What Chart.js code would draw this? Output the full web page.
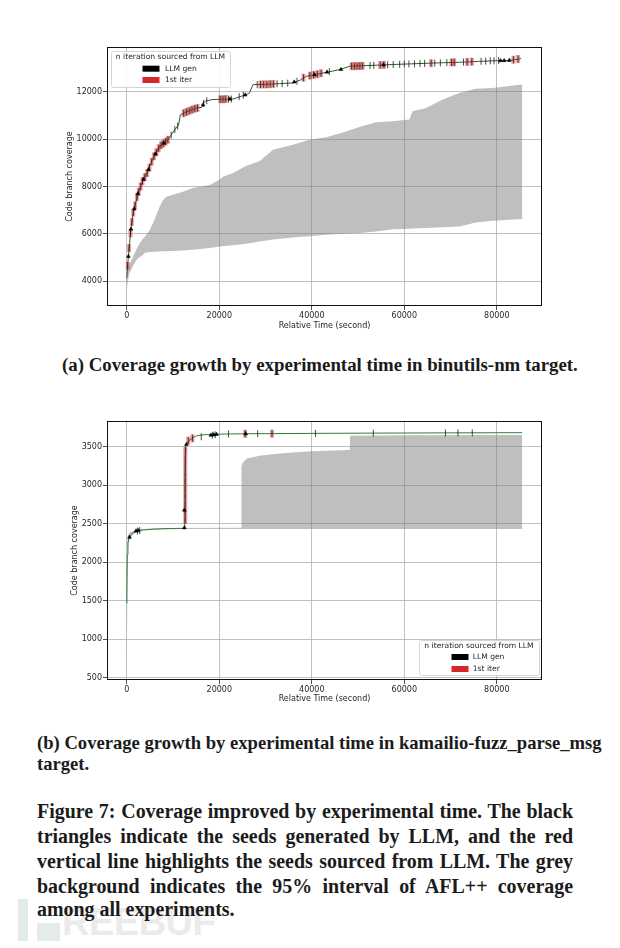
<!DOCTYPE html>
<html><head><meta charset="utf-8">
<script src="https://cdn.jsdelivr.net/npm/chart.js@4.4.1/dist/chart.umd.min.js"></script>
<style>
html,body{margin:0;padding:0;background:#fff;}
body{width:620px;height:948px;position:relative;overflow:hidden;}
canvas{position:absolute;left:0;}
.cap{position:absolute;font-family:"Liberation Serif","DejaVu Serif",serif;font-weight:bold;color:#1b1b1b;white-space:nowrap;line-height:24px;height:24px;z-index:2;}
.just{text-align:justify;text-align-last:justify;}
.wm{position:absolute;z-index:1;}
.wmtext{position:absolute;left:62px;top:901px;font-family:"Liberation Sans",Arial,sans-serif;font-weight:bold;font-size:38px;color:#ebebeb;letter-spacing:-0.5px;z-index:1;}
</style></head>
<body>
<canvas id="c1" width="620" height="340" style="top:0px"></canvas>
<canvas id="c2" width="620" height="330" style="top:380px"></canvas>

<div class="wm" style="left:18px;top:899px;width:10px;height:42px;background:#e1ebe7"></div>
<div class="wm" style="left:37px;top:923px;width:23px;height:18px;background:#e4ece9"></div>
<div class="wmtext">REEBUF</div>

<div class="cap" id="capA" style="left:62px;top:353px">(a) Coverage growth by experimental time in binutils-nm target.</div>
<div class="cap" id="capB1" style="left:37px;top:731px">(b) Coverage growth by experimental time in kamailio-fuzz_parse_msg</div>
<div class="cap" id="capB2" style="left:37px;top:752px">target.</div>
<div class="cap just" id="f1" style="left:37px;top:799px">Figure 7: Coverage improved by experimental time. The black</div>
<div class="cap just" id="f2" style="left:37px;top:824px">triangles indicate the seeds generated by LLM, and the red</div>
<div class="cap just" id="f3" style="left:37px;top:849px">vertical line highlights the seeds sourced from LLM. The grey</div>
<div class="cap just" id="f4" style="left:37px;top:874px">background indicates the 95% interval of AFL++ coverage</div>
<div class="cap" id="f5" style="left:37px;top:897px">among all experiments.</div>

<script>
// ---------- shared labels ----------
const xAxisTitle = 'Relative Time (second)';
const yAxisTitle = 'Code branch coverage';
const legendTitle = 'n iteration sourced from LLM';
const legendLabels = ['LLM gen', '1st iter'];
const xTickValues = [0, 20000, 40000, 60000, 80000];

// ---------- (a) binutils-nm ----------
const topYTicks = [4000, 6000, 8000, 10000, 12000];
const topTime = [0, 280, 800, 1360, 1730, 2440, 3020, 3520, 4390, 5100, 5900, 7130, 8570, 9500, 10370, 11200, 11600, 12500, 13600, 15050, 16200, 16630, 17000, 18650, 20000, 23000, 25850, 26500, 27300, 30000, 33000, 35900, 37500, 38800, 40500, 42400, 44500, 46000, 48200, 50000, 53900, 57500, 61100, 66000, 71900, 76000, 80600, 82500, 84170, 85260];
const topCoverage = [4120, 4890, 6020, 6870, 7160, 7710, 8007, 8280, 8570, 8950, 9277, 9700, 9912, 10150, 10406, 10600, 11040, 11120, 11210, 11320, 11350, 11530, 11620, 11680, 11690, 11700, 11890, 11950, 12310, 12320, 12350, 12380, 12500, 12660, 12720, 12800, 12880, 12945, 13085, 13100, 13130, 13160, 13185, 13220, 13255, 13290, 13326, 13330, 13370, 13410];
const topBandTime = [0, 500, 1370, 2090, 2810, 3530, 3890, 4970, 6000, 7130, 7840, 8570, 12160, 14300, 17930, 20100, 20800, 22900, 25850, 28700, 31600, 35900, 39500, 43100, 46700, 50300, 53900, 57500, 61100, 61800, 64700, 68300, 71900, 75500, 79100, 85500];
const topBandHigh = [4300, 4700, 5030, 5350, 5600, 5800, 5875, 6160, 6600, 7160, 7430, 7570, 7780, 7936, 8065, 8300, 8414, 8560, 8880, 9065, 9560, 9770, 9983, 10080, 10290, 10520, 10720, 10760, 10830, 11180, 11320, 11680, 11960, 12130, 12170, 12310];
const topBandLow = [3700, 4300, 4650, 4900, 5020, 5115, 5200, 5230, 5245, 5255, 5260, 5265, 5300, 5326, 5400, 5467, 5480, 5520, 5580, 5679, 5760, 5848, 5900, 5961, 6000, 6032, 6100, 6200, 6220, 6225, 6243, 6280, 6314, 6483, 6554, 6624];
const topSeedTime = [200, 500, 800, 1100, 1400, 1800, 2200, 2600, 3000, 3400, 3900, 4400, 4900, 5400, 5900, 6400, 6900, 7400, 7900, 8400, 8900, 9600, 10400, 11000, 12300, 12900, 13500, 14100, 14700, 15300, 16600, 17300, 20200, 20800, 21400, 22000, 22600, 24300, 25200, 28200, 28900, 29600, 30300, 31000, 31700, 32500, 33600, 34800, 36800, 38200, 39600, 40400, 41200, 42000, 43800, 48600, 49200, 49800, 50400, 51000, 52600, 53400, 54800, 55600, 56400, 57600, 59000, 60000, 61000, 62200, 63400, 64400, 65800, 66600, 67800, 69200, 70200, 70800, 72800, 73600, 74600, 76600, 77600, 78600, 79400, 80400, 83600, 84600];
const topSeedCoverage = [4650, 5400, 6020, 6500, 6900, 7200, 7550, 7780, 8000, 8230, 8400, 8570, 8800, 9050, 9280, 9450, 9620, 9750, 9820, 9900, 9980, 10170, 10410, 10560, 11100, 11150, 11200, 11250, 11290, 11320, 11520, 11630, 11690, 11690, 11700, 11700, 11700, 11800, 11860, 12310, 12315, 12320, 12320, 12330, 12340, 12345, 12355, 12370, 12450, 12600, 12690, 12720, 12750, 12790, 12860, 13090, 13090, 13095, 13100, 13105, 13120, 13125, 13140, 13145, 13150, 13160, 13170, 13178, 13185, 13190, 13198, 13205, 13215, 13222, 13230, 13240, 13248, 13252, 13262, 13270, 13278, 13295, 13305, 13312, 13318, 13325, 13360, 13390];
const topSeedFirstIter = [1,1,1,1,1,1,1,1,1,1,1,1,1,1,1,1,1,1,1,1,1,0,0,0,1,1,1,1,1,1,0,0,1,1,1,0,0,0,0,0,1,1,1,1,1,0,0,0,0,1,1,1,1,1,0,1,1,1,1,1,0,0,1,1,0,0,0,0,0,0,0,0,1,0,0,0,1,1,0,1,1,0,0,0,0,0,1,1];
const topGenTime = [350, 900, 1600, 2400, 3600, 4700, 6200, 8000, 16500, 22300, 25600, 36200, 40600, 43300, 46300, 55500, 80800, 81600, 82700];
const topGenCoverage = [5050, 6200, 7050, 7700, 8300, 8720, 9380, 9840, 11450, 11700, 11870, 12420, 12725, 12840, 12950, 13145, 13322, 13325, 13335];

// ---------- (b) kamailio-fuzz_parse_msg ----------
const botYTicks = [500, 1000, 1500, 2000, 2500, 3000, 3500];
const botTime = [0, 100, 250, 500, 800, 1500, 3000, 6000, 9000, 12450, 12500, 12550, 12650, 12750, 13000, 13460, 14200, 15050, 16500, 19370, 22000, 25000, 30000, 40000, 50000, 60000, 70000, 85500];
const botCoverage = [1465, 2100, 2250, 2320, 2350, 2385, 2415, 2430, 2437, 2440, 2600, 3000, 3400, 3520, 3545, 3580, 3612, 3640, 3655, 3662, 3665, 3668, 3670, 3673, 3676, 3678, 3680, 3682];
const botBandTime = [0, 200, 500, 1000, 2000, 3500, 6000, 12000, 24700, 24800, 25200, 26000, 28700, 32000, 35900, 40000, 43100, 48200, 48300, 60000, 85500];
const botBandLow = [620, 2150, 2280, 2340, 2390, 2418, 2425, 2430, 2431, 2431, 2431, 2431, 2431, 2431, 2431, 2431, 2431, 2431, 2431, 2431, 2431];
const botBandHigh = [1900, 2330, 2380, 2400, 2420, 2432, 2440, 2445, 2448, 3250, 3300, 3348, 3383, 3405, 3426, 3440, 3448, 3457, 3643, 3648, 3651];
const botSeedTime = [2300, 2800, 12650, 12650, 12650, 12650, 12650, 12650, 12650, 12650, 12650, 12650, 13300, 14200, 16100, 18500, 19100, 22000, 25600, 28300, 31400, 40800, 53300, 68900, 71600, 74700];
const botSeedCoverage = [2405, 2410, 2550, 2650, 2750, 2850, 2950, 3050, 3150, 3250, 3350, 3450, 3580, 3610, 3630, 3650, 3655, 3665, 3668, 3669, 3670, 3673, 3676, 3679, 3679, 3680];
const botSeedFirstIter = [0,0,1,1,1,1,1,1,1,1,1,1,1,1,0,0,0,0,1,0,1,0,0,0,0,0];
const botGenTime = [600, 2000, 2500, 12450, 12450, 12900, 18200, 18800, 19400, 25700];
const botGenCoverage = [2325, 2405, 2410, 2447, 2677, 3530, 3650, 3655, 3660, 3668];

// ---------- helpers ----------
const pts = (xs, ys) => xs.map((x, i) => ({x: x, y: ys[i]}));
const pick = (xs, ys, flags) => xs.map((x, i) => ({x: x, y: ys[i]})).filter((p, i) => flags[i]);
const tickFont = {family: 'DejaVu Sans', size: 8};
const ink = '#262626';

function framePlugin() {
  return {
    id: 'frame',
    afterDatasetsDraw(chart) {
      const a = chart.chartArea, ctx = chart.ctx;
      ctx.save();
      ctx.strokeStyle = '#111';
      ctx.lineWidth = 1;
      ctx.strokeRect(Math.round(a.left) + 0.5, Math.round(a.top) + 0.5, Math.round(a.right - a.left) - 1, Math.round(a.bottom - a.top) - 1);
      ctx.restore();
    }
  };
}

function legendPlugin(L) {
  return {
    id: 'boxLegend',
    afterDraw(chart) {
      const ctx = chart.ctx;
      ctx.save();
      ctx.fillStyle = 'rgba(255,255,255,0.85)';
      ctx.strokeStyle = '#d6d6d6';
      ctx.lineWidth = 1;
      ctx.beginPath();
      if (ctx.roundRect) ctx.roundRect(L.x + 0.5, L.y + 0.5, L.w, L.h, 2); else ctx.rect(L.x + 0.5, L.y + 0.5, L.w, L.h);
      ctx.fill(); ctx.stroke();
      ctx.font = '7.6px "DejaVu Sans"';
      ctx.fillStyle = ink;
      ctx.textBaseline = 'middle';
      ctx.textAlign = 'center';
      ctx.fillText(legendTitle, L.x + L.w / 2, L.titleY);
      ctx.textAlign = 'left';
      const colors = ['#000000', '#d62728'];
      legendLabels.forEach((lab, i) => {
        const y = L.rowY[i];
        ctx.fillStyle = colors[i];
        ctx.fillRect(L.px, y - 3, 17, 6);
        ctx.fillStyle = ink;
        ctx.fillText(lab, L.tx, y);
      });
      ctx.restore();
    }
  };
}

function makeChart(id, d, L) {
  const datasets = [
    {data: pts(d.bandTime, d.bandLow), borderColor: 'transparent', borderWidth: 0, pointRadius: 0, fill: false, order: 10},
    {data: pts(d.bandTime, d.bandHigh), borderColor: 'transparent', borderWidth: 0, pointRadius: 0, fill: '-1', backgroundColor: 'rgba(128,128,128,0.5)', order: 9},
    {data: pts(d.time, d.cov), borderColor: L.lineColor, borderWidth: 1, pointRadius: 0, fill: false, order: 5},
    {data: pick(d.seedTime, d.seedCov, d.seedFirst), showLine: false, pointStyle: 'line', pointRotation: 90, pointRadius: 4, pointBorderWidth: 4, pointBorderColor: 'rgba(214,39,40,0.45)', pointBackgroundColor: 'rgba(214,39,40,0.45)', order: 4},
    {data: pts(d.seedTime, d.seedCov), showLine: false, pointStyle: 'line', pointRotation: 90, pointRadius: 3.5, pointBorderWidth: 0.8, pointBorderColor: '#1a1a1a', pointBackgroundColor: '#1a1a1a', order: 3},
    {data: pts(d.genTime, d.genCov), showLine: false, pointStyle: 'triangle', pointRadius: 2.2, pointBorderWidth: 0.5, pointBorderColor: '#000', pointBackgroundColor: '#000', order: 2}
  ];
  return new Chart(document.getElementById(id), {
    type: 'line',
    data: {datasets: datasets},
    options: {
      responsive: false, animation: false, devicePixelRatio: 1, events: [],
      layout: {padding: {left: 0, right: 78, top: L.padTop, bottom: 0}},
      plugins: {legend: {display: false}, tooltip: {enabled: false}},
      scales: {
        x: {
          type: 'linear', min: -4275, max: 89775,
          afterBuildTicks: s => { s.ticks = xTickValues.map(v => ({value: v})); },
          afterFit: s => { s.height = L.xAxisH; },
          ticks: {font: tickFont, color: ink, padding: 1, maxRotation: 0, autoSkip: false, callback: v => String(v)},
          grid: {color: '#b0b0b0', lineWidth: 0.8, tickLength: 4, tickColor: '#222', tickWidth: 0.8},
          border: {display: false},
          title: {display: true, text: xAxisTitle, font: tickFont, color: ink, padding: {top: 0, bottom: L.xTitlePad}}
        },
        y: {
          type: 'linear', min: L.yMin, max: L.yMax,
          afterBuildTicks: s => { s.ticks = L.yTicks.map(v => ({value: v})); },
          afterFit: s => { s.width = 107; },
          ticks: {font: tickFont, color: ink, padding: 1, autoSkip: false, callback: v => String(v)},
          grid: {color: '#b0b0b0', lineWidth: 0.8, tickLength: 4, tickColor: '#222', tickWidth: 0.8},
          border: {display: false},
          title: {display: true, text: yAxisTitle, font: tickFont, color: ink, padding: {top: L.yTitlePad, bottom: 0}}
        }
      }
    },
    plugins: [framePlugin(), legendPlugin(L.legend)]
  });
}

makeChart('c1', {
  time: topTime, cov: topCoverage, bandTime: topBandTime, bandLow: topBandLow, bandHigh: topBandHigh,
  seedTime: topSeedTime, seedCov: topSeedCoverage, seedFirst: topSeedFirstIter, genTime: topGenTime, genCov: topGenCoverage
}, {
  padTop: 47, xAxisH: 34, xTitlePad: 9, yTitlePad: 65, yMin: 2950, yMax: 13900, yTicks: topYTicks, lineColor: '#2f5a2f',
  legend: {x: 111, y: 51, w: 119, h: 36, titleY: 57.5, rowY: [68.7, 80], px: 142.5, tx: 165}
});

makeChart('c2', {
  time: botTime, cov: botCoverage, bandTime: botBandTime, bandLow: botBandLow, bandHigh: botBandHigh,
  seedTime: botSeedTime, seedCov: botSeedCoverage, seedFirst: botSeedFirstIter, genTime: botGenTime, genCov: botGenCoverage
}, {
  padTop: 41, xAxisH: 30, xTitlePad: 6, yTitlePad: 70, yMin: 470, yMax: 3834, yTicks: botYTicks, lineColor: '#2e7d3e',
  legend: {x: 419, y: 260, w: 120, h: 35, titleY: 265.7, rowY: [277, 289], px: 451.5, tx: 472.7}
});

// ---------- caption sizing ----------
function naturalSize(el, target) {
  el.style.fontSize = '16px';
  el.style.display = 'inline-block';
  el.style.width = 'auto';
  const w = el.getBoundingClientRect().width;
  return 16 * target / w;
}
function fitWidth(el, target) {
  const fs = naturalSize(el, target);
  el.style.fontSize = fs + 'px';
  return fs;
}
fitWidth(document.getElementById('capA'), 516);
const fsB = fitWidth(document.getElementById('capB1'), 565);
document.getElementById('capB2').style.fontSize = fsB + 'px';
const justIds = ['f1', 'f2', 'f3', 'f4'];
let fsF = naturalSize(document.getElementById('f5'), 211);
justIds.forEach(id => { fsF = Math.min(fsF, naturalSize(document.getElementById(id), 530)); });
document.getElementById('f5').style.fontSize = fsF + 'px';
justIds.forEach(id => {
  const el = document.getElementById(id);
  el.style.fontSize = fsF + 'px';
  el.style.display = 'block';
  el.style.width = '536px';
  el.style.whiteSpace = 'normal';
});
</script>
</body></html>
